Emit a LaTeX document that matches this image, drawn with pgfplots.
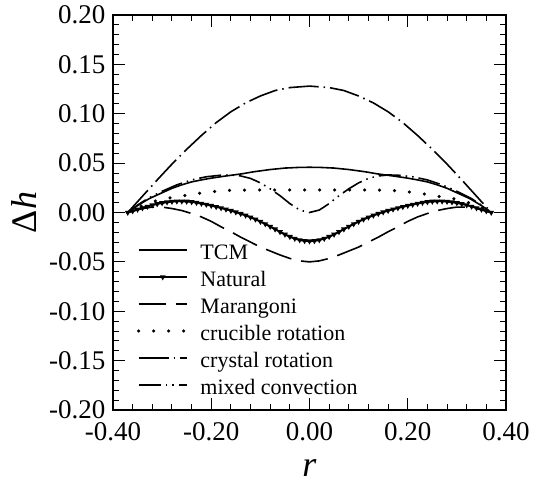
\documentclass[border=0pt]{standalone}
\usepackage{pgfplots}
\pgfplotsset{compat=1.18}
\usepackage{fontspec}
\setmainfont{Liberation Serif}

% surface deflection profiles, one table per case
\begin{document}
\begin{tikzpicture}
\begin{axis}[
  scale only axis, width=393pt, height=395pt,
  xmin=-0.4, xmax=0.4, ymin=-0.2, ymax=0.2,
  xtick={-0.4,-0.2,0,0.2,0.4},
  ytick={-0.2,-0.15,-0.1,-0.05,0,0.05,0.1,0.15,0.2},
  minor x tick num=4, minor y tick num=4,
  tick align=inside, major tick length=12pt, minor tick length=6pt,
  axis line style={line width=1.2pt},
  every tick/.style={black, line width=1pt},
  /pgf/number format/.cd, fixed, fixed zerofill, precision=2, assume math mode=true, /pgfplots/.cd,
  tick label style={font=\fontsize{27}{30}\selectfont},
  xticklabel style={yshift=-9pt},
  yticklabel style={xshift=-4pt},
  xlabel={\fontsize{36}{40}\selectfont\itshape r},
  ylabel={\fontsize{36}{40}\selectfont Δ\textit{h}},
  xlabel style={at={(rel axis cs:0.5,-0.146)}, anchor=center, inner sep=0pt},
  ylabel style={at={(rel axis cs:-0.2265,0.5)}, anchor=center, inner sep=0pt},
  legend cell align=left,
  legend style={draw=none, fill=none, at={(0.061,0.4304)}, anchor=north west,
    inner sep=0pt, outer sep=0pt, font=\fontsize{22}{24}\selectfont,
    row sep=7pt, column sep=12pt,
    nodes={inner sep=0pt, text height=20pt, text depth=0pt}},
  legend image code/.code={\draw[mark repeat=2,mark phase=2,#1] plot coordinates {(0pt,0pt) (24pt,0pt) (48pt,0pt)};},
]
% TCM
\addplot[black, line width=1.6pt] coordinates {
(-0.37,0) (-0.36,0.0035) (-0.35,0.0070) (-0.34,0.0100) (-0.33,0.0130) (-0.32,0.0155)
(-0.30,0.0200) (-0.28,0.0245) (-0.26,0.0280) (-0.24,0.0310) (-0.22,0.0330) (-0.20,0.0348)
(-0.17,0.0370) (-0.14,0.0390) (-0.11,0.0415) (-0.08,0.0435) (-0.05,0.0450) (-0.02,0.0457)
(0,0.0458)
(0.02,0.0457) (0.05,0.0450) (0.08,0.0435) (0.11,0.0415) (0.14,0.0390) (0.17,0.0370)
(0.20,0.0348) (0.22,0.0330) (0.24,0.0310) (0.26,0.0280) (0.28,0.0245) (0.30,0.0200)
(0.32,0.0155) (0.33,0.0130) (0.34,0.0100) (0.35,0.0070) (0.36,0.0035) (0.37,0)};
% Natural
\addplot[black, line width=2pt, mark=triangle*, mark size=1.4pt, mark options={rotate=180, solid}] coordinates {
(-0.37,0) (-0.36,0.0015) (-0.35,0.0031) (-0.34,0.0046) (-0.33,0.0061) (-0.32,0.0075)
(-0.31,0.0087) (-0.30,0.0097) (-0.29,0.0105) (-0.28,0.0111) (-0.27,0.0114) (-0.26,0.0114)
(-0.25,0.0112) (-0.24,0.0107) (-0.23,0.0100) (-0.22,0.0091) (-0.21,0.0081) (-0.20,0.0070)
(-0.19,0.0058) (-0.18,0.0046) (-0.17,0.0033) (-0.16,0.0019) (-0.15,0.0004) (-0.14,-0.0012)
(-0.13,-0.0029) (-0.12,-0.0048) (-0.11,-0.0069) (-0.10,-0.0092) (-0.09,-0.0116) (-0.08,-0.0142)
(-0.07,-0.0169) (-0.06,-0.0196) (-0.05,-0.0222) (-0.04,-0.0245) (-0.03,-0.0264) (-0.02,-0.0278)
(-0.01,-0.0287) (0,-0.0290)
(0.01,-0.0287) (0.02,-0.0278) (0.03,-0.0264) (0.04,-0.0245) (0.05,-0.0222) (0.06,-0.0196)
(0.07,-0.0169) (0.08,-0.0142) (0.09,-0.0116) (0.10,-0.0092) (0.11,-0.0069) (0.12,-0.0048)
(0.13,-0.0029) (0.14,-0.0012) (0.15,0.0004) (0.16,0.0019) (0.17,0.0033) (0.18,0.0046)
(0.19,0.0058) (0.20,0.0070) (0.21,0.0081) (0.22,0.0091) (0.23,0.0100) (0.24,0.0107)
(0.25,0.0112) (0.26,0.0114) (0.27,0.0114) (0.28,0.0111) (0.29,0.0105) (0.30,0.0097)
(0.31,0.0087) (0.32,0.0075) (0.33,0.0061) (0.34,0.0046) (0.35,0.0031) (0.36,0.0015) (0.37,0)};
% Marangoni
\addplot[black, line width=1.6pt, dash pattern=on 27pt off 10pt] coordinates {
(-0.37,0) (-0.34,0.0040) (-0.32,0.0055) (-0.30,0.0055) (-0.28,0.0040) (-0.26,0.0020)
(-0.24,-0.0010) (-0.22,-0.0045) (-0.20,-0.0090) (-0.18,-0.0145) (-0.16,-0.0195) (-0.14,-0.0250)
(-0.12,-0.0300) (-0.10,-0.0350) (-0.08,-0.0390) (-0.06,-0.0430) (-0.04,-0.0465) (-0.02,-0.0490)
(0,-0.0500)
(0.02,-0.0490) (0.04,-0.0465) (0.06,-0.0430) (0.08,-0.0390) (0.10,-0.0350) (0.12,-0.0300)
(0.14,-0.0250) (0.16,-0.0195) (0.18,-0.0145) (0.20,-0.0090) (0.22,-0.0045) (0.24,-0.0010)
(0.26,0.0020) (0.28,0.0040) (0.30,0.0055) (0.32,0.0055) (0.34,0.0040) (0.37,0)};
% crucible rotation
\addplot[black, line width=3.5pt, line cap=round, dash pattern=on 0pt off 15pt] coordinates {
(-0.37,0) (-0.35,0.0050) (-0.33,0.0090) (-0.31,0.0122) (-0.29,0.0143) (-0.27,0.0158)
(-0.25,0.0174) (-0.23,0.0190) (-0.21,0.0204) (-0.19,0.0215) (-0.17,0.0222) (-0.15,0.0226)
(-0.12,0.0228) (0,0.0228) (0.12,0.0228)
(0.15,0.0226) (0.17,0.0222) (0.19,0.0215) (0.21,0.0204) (0.23,0.0190) (0.25,0.0174)
(0.27,0.0158) (0.29,0.0143) (0.31,0.0122) (0.33,0.0090) (0.35,0.0050) (0.37,0)};
% crystal rotation
\addplot[black, line width=1.6pt, dash pattern=on 30pt off 5pt on 1.5pt off 5pt] coordinates {
(-0.37,0) (-0.34,0.0165) (-0.31,0.0330) (-0.28,0.0490) (-0.25,0.0640) (-0.22,0.0780)
(-0.19,0.0910) (-0.16,0.1020) (-0.13,0.1110) (-0.10,0.1180) (-0.07,0.1235) (-0.04,0.1265)
(0,0.1280)
(0.04,0.1265) (0.07,0.1235) (0.10,0.1180) (0.13,0.1110) (0.16,0.1020) (0.19,0.0910)
(0.22,0.0780) (0.25,0.0640) (0.28,0.0490) (0.31,0.0330) (0.34,0.0165) (0.37,0)};
% mixed convection
\addplot[black, line width=1.6pt, dash pattern=on 22pt off 5pt on 1.5pt off 5pt on 1.5pt off 5pt] coordinates {
(-0.37,0) (-0.35,0.0075) (-0.33,0.0140) (-0.30,0.0215) (-0.27,0.0280) (-0.24,0.0330)
(-0.21,0.0362) (-0.18,0.0378) (-0.16,0.0380) (-0.14,0.0370) (-0.12,0.0345) (-0.10,0.0300)
(-0.08,0.0240) (-0.06,0.0170) (-0.04,0.0090) (-0.02,0.0025) (0,0)
(0.02,0.0025) (0.04,0.0090) (0.06,0.0170) (0.08,0.0240) (0.10,0.0300) (0.12,0.0345)
(0.14,0.0370) (0.16,0.0380) (0.18,0.0378) (0.21,0.0362) (0.24,0.0330) (0.27,0.0280)
(0.30,0.0215) (0.33,0.0140) (0.35,0.0075) (0.37,0)};
\legend{TCM, Natural, Marangoni, crucible rotation, crystal rotation, mixed convection}
\coordinate (bl) at (rel axis cs:0,0);
\coordinate (tr) at (rel axis cs:1,1);
\end{axis}
\path ([shift={(-113pt,-71pt)}]bl) rectangle ([shift={(27pt,15pt)}]tr);
\end{tikzpicture}
\end{document}
